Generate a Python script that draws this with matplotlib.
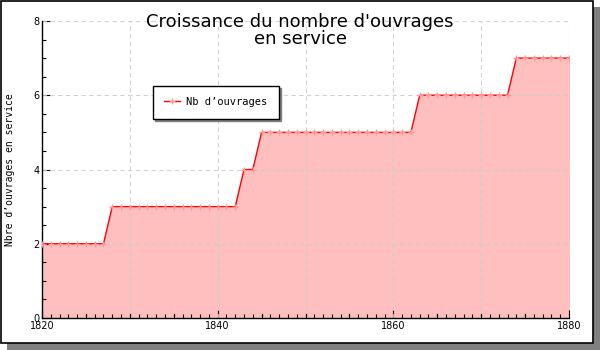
import matplotlib
matplotlib.use("Agg")
import matplotlib.pyplot as plt
from matplotlib.patches import Rectangle
from matplotlib.ticker import MultipleLocator
import numpy as np

# annees et nombre d'ouvrages en service
years = np.arange(1820, 1881)
counts = ([2] * 8 + [3] * 15 + [4] * 2 + [5] * 18 + [6] * 11 + [7] * 7)

fig = plt.figure(figsize=(6, 3.5), dpi=100)

# cadre avec ombre portee
fig.patches.append(Rectangle((7 / 600, 0), 593 / 600, 343 / 350, transform=fig.transFigure,
                             facecolor="#808080", edgecolor="none", zorder=-2))
fig.patches.append(Rectangle((0.5 / 600, 7 / 350), 592 / 600, 342.5 / 350, transform=fig.transFigure,
                             facecolor="white", edgecolor="black", linewidth=1.2, zorder=-1))

ax = fig.add_axes([42 / 600, 32 / 350, 527 / 600, 297 / 350])
ax.set_facecolor("none")

ax.fill_between(years, counts, 0, color="#ffbfbf", zorder=1)
ax.plot(years, counts, color="red", linewidth=1, zorder=3)
ax.plot(years, counts, linestyle="none", marker="+", markersize=4, color="#ff9999",
        markeredgewidth=1, zorder=4)
ax.plot([], [], color="red", linewidth=1, marker="+", markersize=4,
        markeredgecolor="#ff9999", label="Nb d\u2019ouvrages")

ax.set_xlim(1820, 1880)
ax.set_ylim(0, 8)

ax.xaxis.set_major_locator(MultipleLocator(20))
ax.xaxis.set_minor_locator(MultipleLocator(1))
ax.yaxis.set_major_locator(MultipleLocator(2))
ax.yaxis.set_minor_locator(MultipleLocator(0.5))

for x in range(1830, 1881, 10):
    ax.axvline(x, color="#cccccc", linestyle=(0, (4, 3)), linewidth=0.8, zorder=2, alpha=0.85)
for y in range(2, 9, 2):
    ax.axhline(y, color="#cccccc", linestyle=(0, (4, 3)), linewidth=0.8, zorder=2, alpha=0.85)

# ticks moyens tous les 5 ans
for x in range(1825, 1880, 5):
    if (x - 1820) % 20:
        ax.plot([x, x], [0, 0.11], color="black", linewidth=0.8, zorder=5, clip_on=False)

ax.tick_params(axis="both", which="both", direction="in", labelsize=7, width=0.8)
ax.tick_params(axis="both", which="major", length=6)
ax.tick_params(axis="both", which="minor", length=3)
ax.tick_params(axis="y", pad=2)
ax.tick_params(axis="x", pad=2)

for side in ("top", "right"):
    ax.spines[side].set_visible(False)
ax.spines["left"].set_linewidth(1)
ax.spines["bottom"].set_linewidth(1)

ax.set_ylabel("Nbre d\u2019ouvrages en service", family="DejaVu Sans Mono", fontsize=7, labelpad=13)
fig.text(0.5, 0.912, "Croissance du nombre d'ouvrages\nen service", ha="center", va="center",
         fontsize=13, linespacing=0.95)

leg = ax.legend(loc="upper left", bbox_to_anchor=(0.2, 0.8), frameon=True, fancybox=False,
                shadow={"color": "#808080", "alpha": 1}, prop={"family": "DejaVu Sans Mono", "size": 7.5},
                handlelength=1.5, borderpad=1.1, handletextpad=0.6)
leg.get_frame().set_edgecolor("black")
leg.get_frame().set_linewidth(1)

fig.savefig("out.png", dpi=100)
